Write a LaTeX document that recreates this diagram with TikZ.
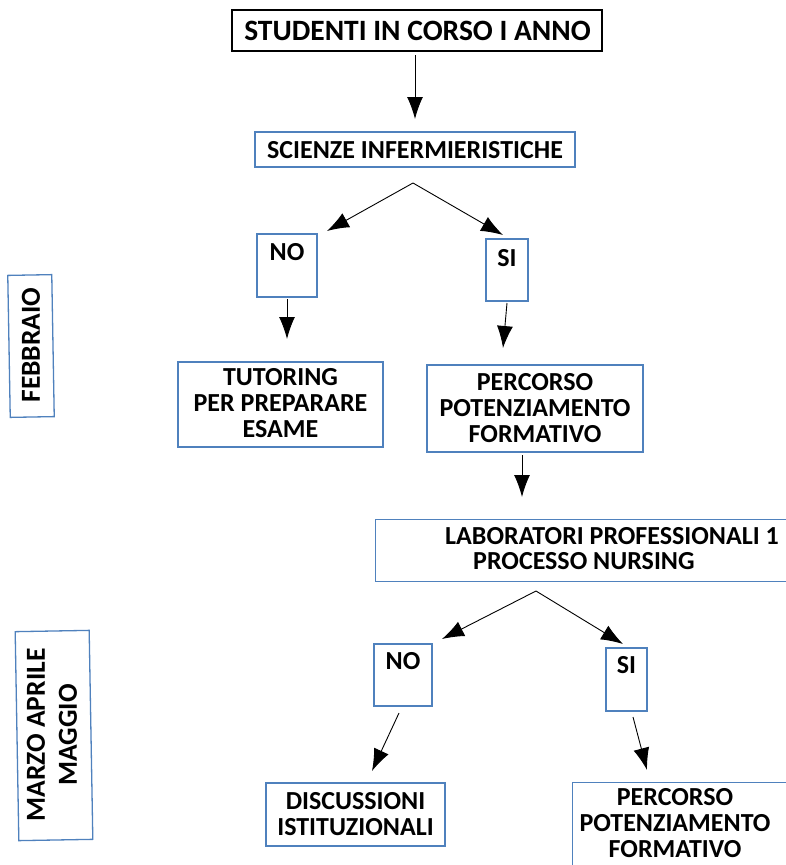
\documentclass[tikz,border=0pt]{standalone}
\usepackage{fontspec}
\setmainfont{Carlito}
\usetikzlibrary{arrows.meta}
\definecolor{boxblue}{RGB}{79,129,189}
\begin{document}
\begin{tikzpicture}[x=1pt,y=-1pt,
  box/.style={draw=boxblue, line width=1.3pt, inner sep=0pt, fill=white},
  txt/.style={font=\fontsize{26}{26}\selectfont\bfseries, align=center, inner sep=0pt},
  side/.style={font=\fontsize{27.5}{32}\selectfont\bfseries, align=center, inner sep=0pt, rotate=90},
  arr/.style={draw=black, line width=0.9pt, -{Latex[length=22pt,width=16pt]}}]
\useasboundingbox (0,0) rectangle (785,865);
% top
\node[box, draw=black, minimum width=370, minimum height=41] (top) at (417,30.5) {};
\node[txt, font=\fontsize{29.5}{30}\selectfont\bfseries] (toptxt) at (417.5,31) {STUDENTI IN CORSO I ANNO};
\node[box, minimum width=320, minimum height=35] (sci) at (415,149.5) {};
\node[txt] (scitxt) at (415,150) {SCIENZE INFERMIERISTICHE};
% first branch
\node[box, minimum width=60, minimum height=63] (no1) at (287,265.5) {};
\node[txt] (no1txt) at (287,252) {NO};
\node[box, minimum width=42, minimum height=62] (si1) at (507,270) {};
\node[txt] (si1txt) at (507,258) {SI};
\node[box, minimum width=205, minimum height=85] (tut) at (280.5,404.5) {};
\node[txt] (tuttxt) at (280.5,403) {TUTORING\\PER PREPARARE\\ESAME};
\node[box, minimum width=216, minimum height=87] (perc1) at (535,408.5) {};
\node[txt] (perc1txt) at (535,408) {PERCORSO\\POTENZIAMENTO\\FORMATIVO};
\node[box, minimum width=425, minimum height=62, anchor=north west] (lab) at (375,519) {};
\node[txt, anchor=west] (labtxt1) at (445,536) {LABORATORI PROFESSIONALI 1};
\node[txt, anchor=west] (labtxt2) at (473,561) {PROCESSO NURSING};
% second branch
\node[box, minimum width=58, minimum height=62] (no2) at (403,675) {};
\node[txt] (no2txt) at (403,661) {NO};
\node[box, minimum width=41, minimum height=63] (si2) at (626.5,679.5) {};
\node[txt] (si2txt) at (626.5,665) {SI};
\node[box, minimum width=179, minimum height=63] (disc) at (355.5,814.5) {};
\node[txt] (disctxt) at (355.5,814) {DISCUSSIONI\\ISTITUZIONALI};
\node[box, minimum width=230, minimum height=120, anchor=north west] (perc2) at (572,782) {};
\node[txt] (perc2txt) at (675,823) {PERCORSO\\POTENZIAMENTO\\FORMATIVO};
% side labels
\node[box, minimum width=44, minimum height=142, rotate=1] (feb) at (31,346) {};
\node[side] (febtxt) at (31,345) {FEBBRAIO};
\node[box, minimum width=74, minimum height=209, rotate=1] (mar) at (54,735.5) {};
\node[side] (martxt) at (52,735) {MARZO APRILE\\MAGGIO};
% connector coordinates
\coordinate (a0) at (415,55);  \coordinate (a1) at (415,119);
\coordinate (b0) at (413,183); \coordinate (b1) at (327,231); \coordinate (b2) at (503,235);
\coordinate (c0) at (287,299); \coordinate (c1) at (287,339);
\coordinate (d0) at (507,303); \coordinate (d1) at (503,348);
\coordinate (e0) at (522,455); \coordinate (e1) at (522,497);
\coordinate (f0) at (536,591); \coordinate (f1) at (442,639); \coordinate (f2) at (623,644);
\coordinate (g0) at (399,713); \coordinate (g1) at (372,771);
\coordinate (h0) at (633,717); \coordinate (h1) at (647,770);
\draw[arr] (a0) -- (a1);
\draw[arr] (b0) -- (b1);
\draw[arr] (b0) -- (b2);
\draw[arr] (c0) -- (c1);
\draw[arr] (d0) -- (d1);
\draw[arr] (e0) -- (e1);
\draw[arr] (f0) -- (f1);
\draw[arr] (f0) -- (f2);
\draw[arr] (g0) -- (g1);
\draw[arr] (h0) -- (h1);
\end{tikzpicture}
\end{document}
